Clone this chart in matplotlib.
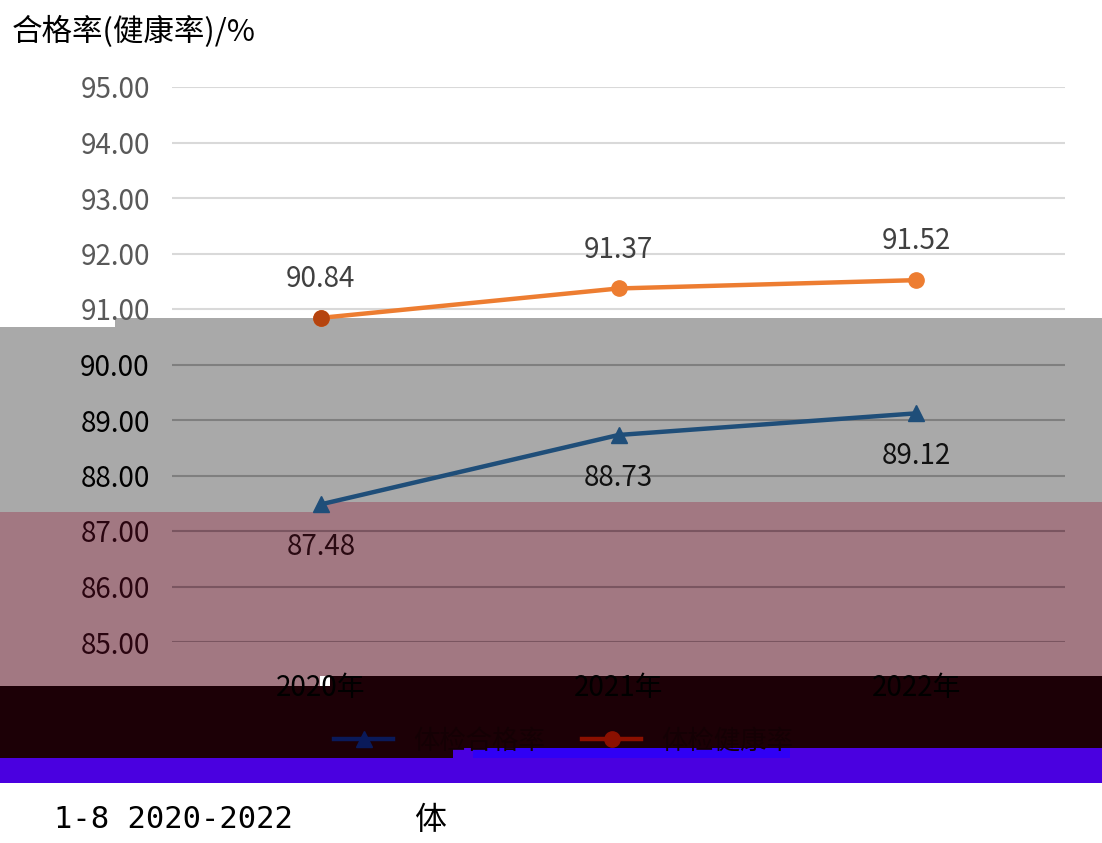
import matplotlib
matplotlib.use("Agg")
import matplotlib.pyplot as plt
from matplotlib.patches import Rectangle
from matplotlib.lines import Line2D

plt.rcParams['font.family'] = ['Noto Sans CJK SC', 'DejaVu Sans']

# data
years = ['2020年', '2021年', '2022年']
hege = [87.48, 88.73, 89.12]      # blue, triangles
jiankang = [90.84, 91.37, 91.52]  # orange, circles
legend_labels = ['体检合格率', '体检健康率']
y_ticks = [85, 86, 87, 88, 89, 90, 91, 92, 93, 94, 95]

W, H = 1102, 843
fig = plt.figure(figsize=(W / 100, H / 100), dpi=100)


def band(x0, y0, x1, y1, color):
    # rectangle in pixel coords of the figure (y from top)
    fig.patches.append(Rectangle((x0 / W, 1 - y1 / H), (x1 - x0) / W, (y1 - y0) / H,
                                 transform=fig.transFigure, facecolor=color,
                                 edgecolor='none', zorder=-5))


# colour bands seen in the reference scan
band(0, 327, 115, 512, '#a9a9a9')
band(115, 318, 320, 512, '#a9a9a9')
band(320, 318, W, 502, '#a9a9a9')
band(0, 512, 320, 686, '#a27882')
band(320, 502, W, 676, '#a27882')
band(0, 686, 330, 758, '#1c0006')
band(330, 676, W, 758, '#1c0006')
band(0, 758, W, 783, '#4a00e0')
band(453, 748, W, 758, '#4a00e0')
band(473, 748, 790, 758, '#3000f5')

ax = fig.add_axes([172 / W, 1 - 642 / H, (1065 - 172) / W, (642 - 87) / H])
ax.set_zorder(2)
ax.set_facecolor('none')
x = list(range(len(years)))

# gridlines, coloured by the band they sit in
def grid_color(v):
    if v >= 91:
        return '#d9d9d9'
    if v >= 88:
        return '#7f7f7f'
    return '#7a5560'

for v in y_ticks:
    ax.axhline(v, color=grid_color(v), lw=1.5, zorder=1)

ax.plot(x, jiankang, color='#ed7d31', lw=3.2, marker='o', ms=11, zorder=3)
ax.plot(x, hege, color='#1f4e79', lw=3.2, marker='^', ms=12, zorder=3)
ax.plot([0], [jiankang[0]], 'o', color='#b5440f', ms=11, zorder=4)

for i, v in enumerate(jiankang):
    ax.annotate(f'{v:.2f}', (i, v), xytext=(0, 28), textcoords='offset points',
                ha='center', va='center', fontsize=20, color='#404040')
lab_colors = ['#2a0a12', '#111111', '#111111']
for i, v in enumerate(hege):
    ax.annotate(f'{v:.2f}', (i, v), xytext=(0, -31), textcoords='offset points',
                ha='center', va='center', fontsize=20, color=lab_colors[i])

ax.set_xlim(-0.5, 2.5)
ax.set_ylim(85, 95)
ax.set_yticks(y_ticks)
ax.set_yticklabels([f'{v:.2f}' for v in y_ticks], fontsize=20)
for lab, v in zip(ax.get_yticklabels(), y_ticks):
    lab.set_color('#595959' if v >= 91 else ('#000000' if v >= 88 else '#2a0510'))
ax.set_xticks(x)
ax.set_xticklabels(years, fontsize=20, color='#000000')
ax.tick_params(length=0, axis='y', pad=16)
ax.tick_params(length=0, axis='x', pad=22)
for s in ax.spines.values():
    s.set_visible(False)

handles = [Line2D([], [], color='#0a1a5a', lw=3.2, marker='^', ms=12),
           Line2D([], [], color='#8b1000', lw=3.2, marker='o', ms=11)]
leg = fig.legend(handles, legend_labels, loc='center', bbox_to_anchor=(564 / W, 1 - 741 / H),
                 ncol=2, frameon=False, fontsize=19, labelcolor='#140004',
                 handlelength=2.2, columnspacing=1.4)
leg.set_zorder(3)

fig.text(12 / W, 1 - 32 / H, '合格率(健康率)/%', fontsize=22, va='center', ha='left')
fig.text(54 / W, 1 - 820 / H, '1-8 2020-2022', fontsize=22, va='center', ha='left',
         family=['DejaVu Sans Mono', 'Noto Sans CJK SC'])
fig.text(414 / W, 1 - 820 / H, '体', fontsize=23, va='center', ha='left')

fig.savefig('out.png', dpi=100)
